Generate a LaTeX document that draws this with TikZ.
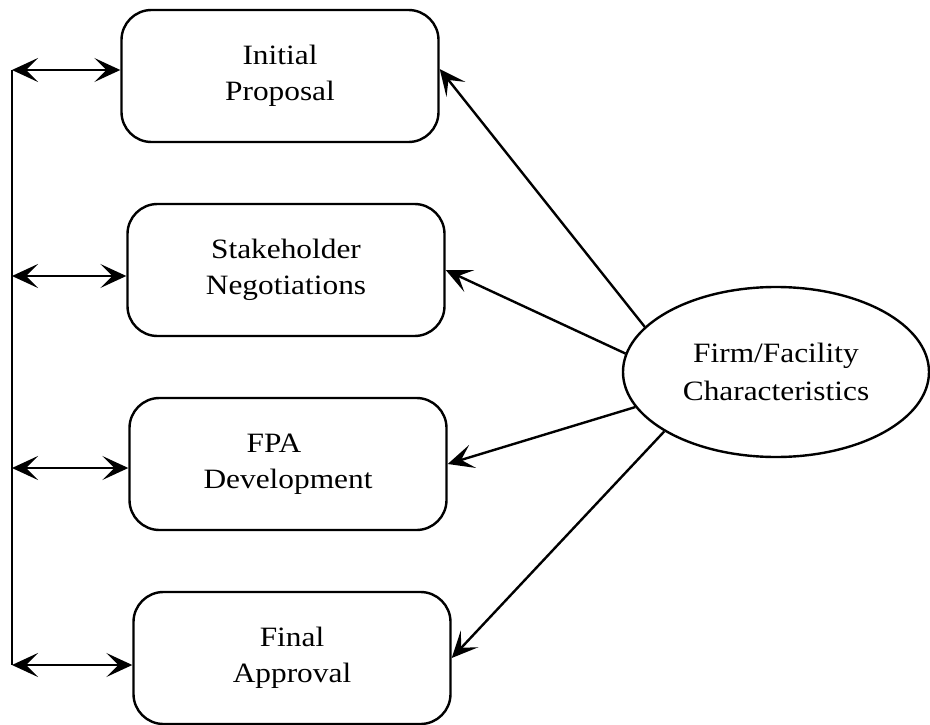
\documentclass[tikz,border=0pt]{standalone}
\usepackage{fontspec}
\setmainfont[FakeStretch=1.12]{Liberation Serif}
\usetikzlibrary{shapes.geometric,arrows.meta}
\begin{document}
\begin{tikzpicture}[x=1pt,y=-1pt,node distance=194pt,line width=2.4pt,
  >={Stealth[length=26pt,width=24pt,inset=12pt]}]
\tikzstyle{stage}=[draw,rounded corners=30pt,minimum width=317pt,minimum height=132pt,
  align=center,font=\fontsize{28}{36}\selectfont]
\tikzstyle{factor}=[draw,ellipse,minimum width=306pt,minimum height=170pt,inner sep=0pt,
  align=center,font=\fontsize{28}{38}\selectfont]
\useasboundingbox (0,0) rectangle (930,725);
\node[stage] (init) at (280,76) {Initial\\Proposal};
\node[stage] (nego) [below of=init,xshift=6pt] {Stakeholder\\Negotiations};
\node[stage] (fpa) [below of=nego,xshift=2pt] {FPA\hspace*{1em}\\Development};
\node[stage] (final) [below of=fpa,xshift=4pt] {Final\\Approval};
\node[factor] (firm) at (776,372) {Firm/Facility\\Characteristics};
% feedback line on the left
\coordinate (top) at (12,70);
\coordinate (mid1) at (12,276);
\coordinate (mid2) at (12,468);
\coordinate (bot) at (12,665);
\draw (top) -- (bot);
\draw[<->] (top) -- (init.west |- top);
\draw[<->] (mid1) -- (nego.west |- mid1);
\draw[<->] (mid2) -- (fpa.west |- mid2);
\draw[<->] (bot) -- (final.west |- bot);
% influence of the characteristics
\draw[->] (firm.161) -- ([yshift=7pt]init.east);
\draw[->] (firm.173) -- (nego.east);
\draw[->] (firm.194) -- (fpa.east);
\draw[->] (firm.208) -- (final.east);
\end{tikzpicture}
\end{document}
